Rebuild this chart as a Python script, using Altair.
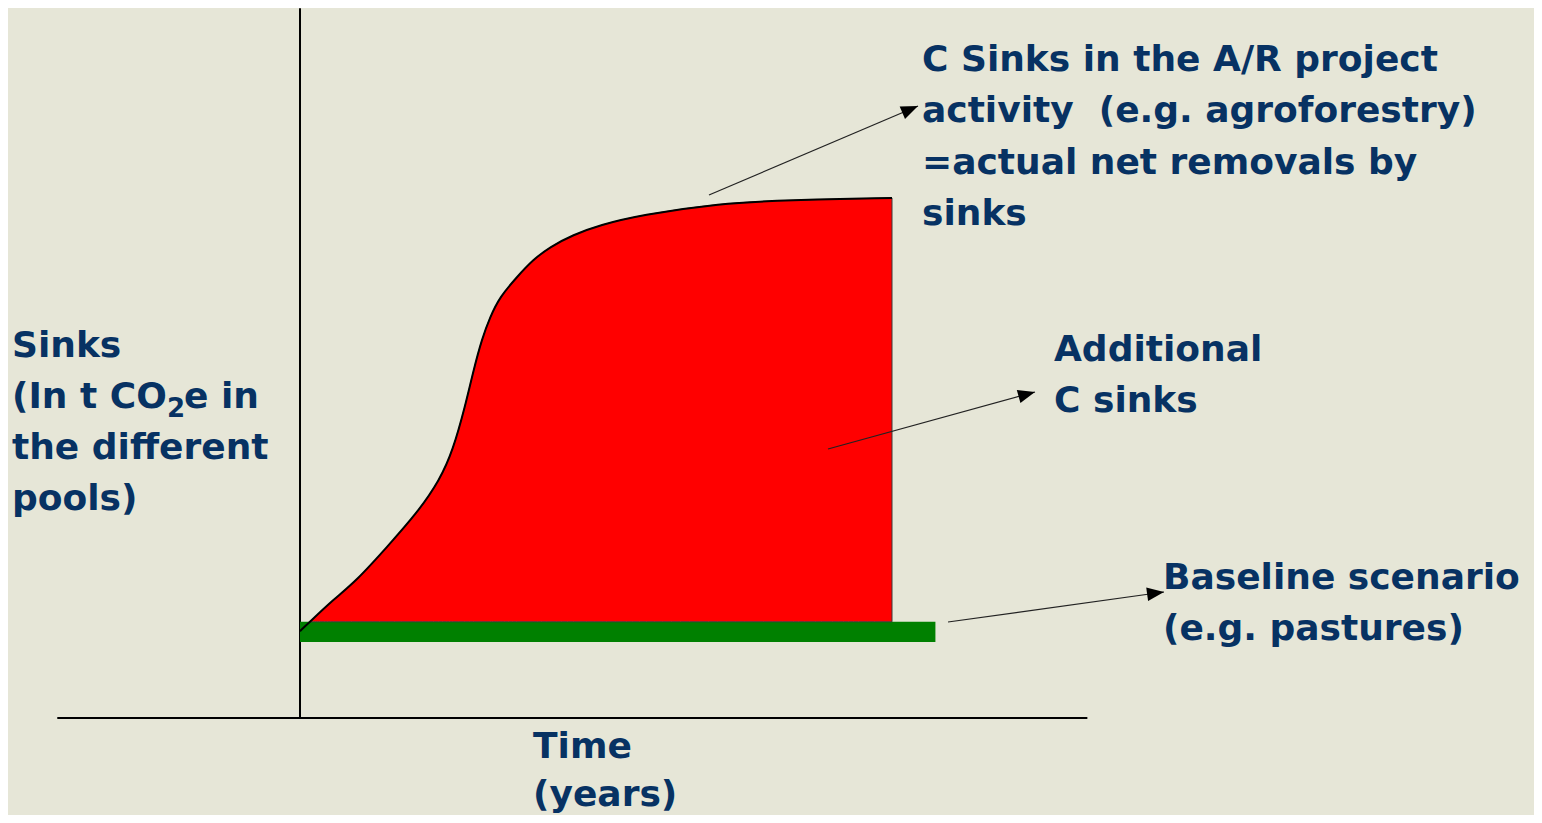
import math
import altair as alt
import pandas as pd

# ---------------- data ----------------
years = [0, 0.5, 1.67, 2.89, 4.41, 5.93, 7.09, 7.75, 8.36, 8.8, 9.22, 9.63, 10.13, 10.99, 11.8, 12.67, 13.83, 15.2, 17.23, 21.28, 24.68, 30]
sinks = [16.7, 18.5, 22.7, 26.5, 32.9, 39.4, 45.8, 51.5, 59.8, 67.0, 72.9, 77.1, 81.0, 84.8, 88.1, 90.6, 92.9, 94.8, 96.7, 99.0, 99.6, 100]
baseline_years = [0, 32.2]
baseline_band = [14.6, 18.5]
axis_x_span = [-12.3, 39.9]
axis_y_top = 136.5

labels_project = "C Sinks in the A/R project\nactivity\u00a0 (e.g. agroforestry)\n=actual net removals by\nsinks"
labels_additional = "Additional\nC sinks"
labels_baseline = "Baseline scenario\n(e.g. pastures)"
labels_yaxis_1 = "Sinks"
labels_yaxis_2a = "(In t CO"
labels_yaxis_2b = "2"
labels_yaxis_2c = "e in"
labels_yaxis_3 = "the different\npools)"
labels_xaxis = "Time\n(years)"

# ---------------- layout ----------------
W, H = 1526, 807
X0, XS = 292, 592 / 30
Y0, YS = 710, 5.2
xdom = [-X0 / XS, (W - X0) / XS]
ydom = [-(H - Y0) / YS, Y0 / YS]
xs = alt.Scale(domain=xdom, nice=False, zero=False)
ys = alt.Scale(domain=ydom, nice=False, zero=False)

BG = "#E6E6D7"
NAVY = "#073263"

curve = pd.DataFrame({"year": years, "sink": sinks})

axes_df = pd.DataFrame({
    "x": [0, axis_x_span[0]], "x2": [0, axis_x_span[1]],
    "y": [0, 0], "y2": [axis_y_top, 0],
})
axes = alt.Chart(axes_df).mark_rule(color="black", strokeWidth=2).encode(
    x=alt.X("x:Q", scale=xs, axis=None), x2="x2:Q",
    y=alt.Y("y:Q", scale=ys, axis=None), y2="y2:Q",
)

base_df = pd.DataFrame({"x": [baseline_years[0]], "x2": [baseline_years[1]],
                        "y": [baseline_band[0]], "y2": [baseline_band[1]]})
base = alt.Chart(base_df).mark_rect(color="#008000").encode(
    x=alt.X("x:Q", scale=xs, axis=None), x2="x2:Q",
    y=alt.Y("y:Q", scale=ys, axis=None), y2="y2:Q",
)

area = alt.Chart(curve).transform_filter(alt.datum.sink >= baseline_band[1]).mark_area(
    color="#FF0000", stroke="#3a3a3a", strokeWidth=1, interpolate="basis"
).encode(
    x=alt.X("year:Q", scale=xs, axis=None),
    y=alt.Y("sink:Q", scale=ys, axis=None),
    y2=alt.datum(baseline_band[1]),
)

line = alt.Chart(curve).mark_line(color="black", strokeWidth=2, interpolate="basis").encode(
    x=alt.X("year:Q", scale=xs, axis=None),
    y=alt.Y("sink:Q", scale=ys, axis=None),
)

one = pd.DataFrame({"k": [0]})
layers = [axes, base, area, line]

arrows = [((709, 195), (918, 106)), ((828, 449), (1035, 392)), ((948, 622), (1164, 592))]
for (x1, y1), (x2, y2) in arrows:
    ang = math.degrees(math.atan2(y2 - y1, x2 - x1)) % 360
    layers.append(alt.Chart(one).mark_rule(color="#222222", strokeWidth=1.2).encode(
        x=alt.value(x1 - 8), y=alt.value(y1 - 8), x2=alt.value(x2 - 8), y2=alt.value(y2 - 8)))
    layers.append(alt.Chart(one).mark_point(
        shape="M0,0L-2,-0.8L-2,0.8Z", filled=True, color="black", opacity=1,
        size=289, angle=ang, strokeWidth=0).encode(x=alt.value(x2 - 8), y=alt.value(y2 - 8)))

texts = [
    (labels_project, 922, 70.5, 51.5, 36),
    (labels_additional, 1054, 360.5, 51.5, 36),
    (labels_baseline, 1163, 588.5, 51.5, 36),
    (labels_yaxis_1, 12, 357, 51, 36),
    (labels_yaxis_2a, 12, 408, 51, 36),
    (labels_yaxis_2b, 167, 417, 51, 26),
    (labels_yaxis_2c, 184, 408, 51, 36),
    (labels_yaxis_3, 12, 459, 51, 36),
    (labels_xaxis, 533, 758, 48, 36),
]
for txt, tx, ty, lh, fs in texts:
    layers.append(alt.Chart(one).mark_text(
        align="left", baseline="alphabetic", font="DejaVu Sans", fontWeight="bold",
        fontSize=fs, color=NAVY, lineBreak="\n", lineHeight=lh,
    ).encode(x=alt.value(tx - 8), y=alt.value(ty - 8), text=alt.value(txt)))

chart = alt.layer(*layers).properties(
    width=W, height=H, padding=0, autosize="none", background=BG
).configure_view(stroke=None)

chart.save("out.html", embed_options={"renderer": "svg", "actions": False})
